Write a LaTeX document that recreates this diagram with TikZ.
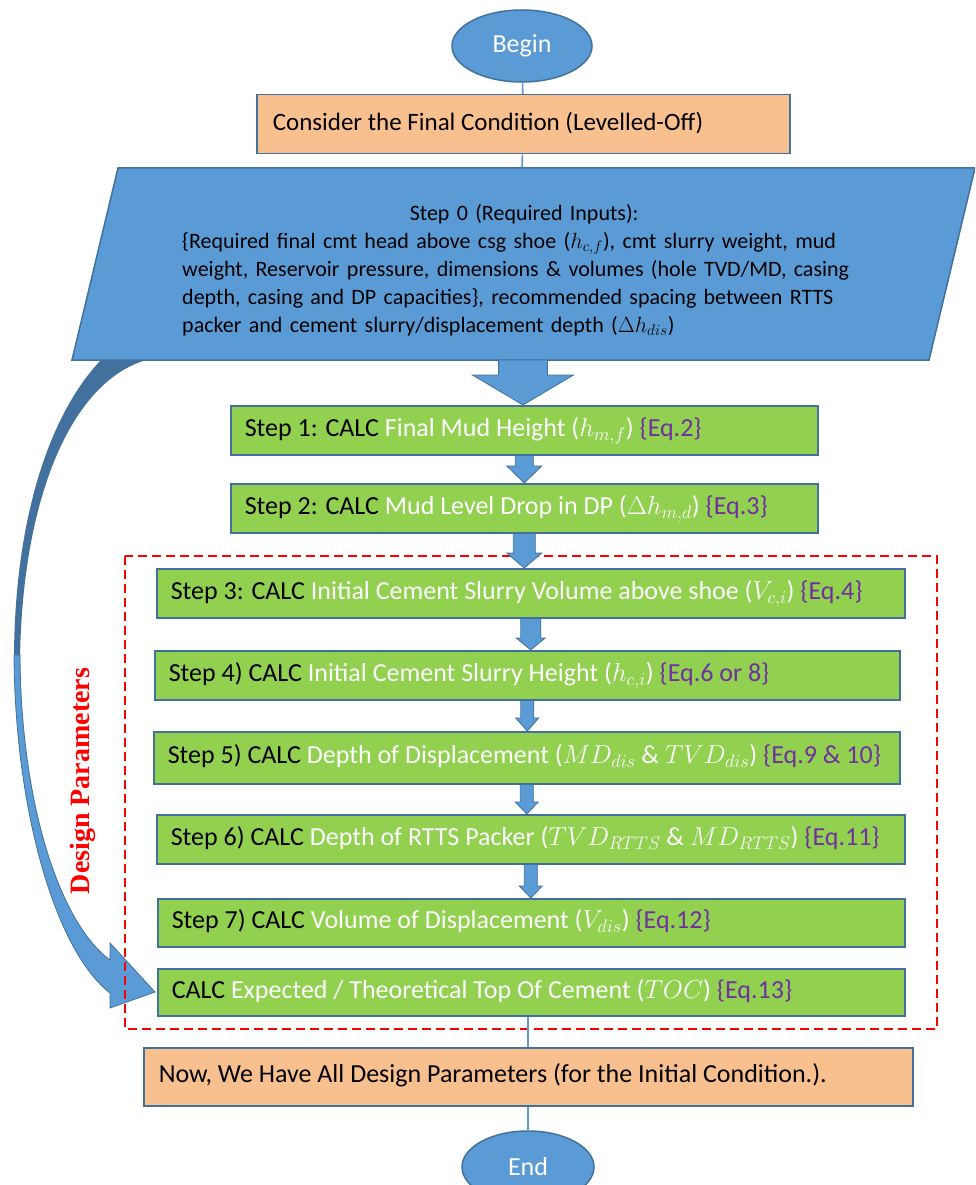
\RequirePackage{fix-cm}
\documentclass[tikz,border=0pt]{standalone}
\usepackage{fontspec}
\setmainfont{Carlito}
\newfontfamily\timesfont{Liberation Serif}
\usetikzlibrary{shapes.geometric,calc}
\definecolor{bfill}{HTML}{5B9BD5}
\definecolor{bdr}{HTML}{41719C}
\definecolor{ofill}{HTML}{F8BF8F}
\definecolor{gfill}{HTML}{92D050}
\definecolor{eqc}{HTML}{7030A0}
\definecolor{dred}{HTML}{FF0000}
\tikzset{
  stepst/.style={draw=bdr, fill=gfill, line width=1.5pt, anchor=north west,
    inner xsep=14pt, inner ysep=0pt, font=\fontsize{26}{30}\selectfont},
  obox/.style={draw=bdr, fill=ofill, line width=1.5pt, anchor=north west,
    inner ysep=0pt, font=\fontsize{26}{30}\selectfont},
  ell/.style={ellipse, draw=bdr, fill=bfill, line width=1.5pt, text=white,
    inner sep=0pt, font=\fontsize{26}{30}\selectfont},
  conn/.style={draw=bfill, line width=1.6pt},
  arrst/.style={fill=bfill, draw=bdr, line width=0.8pt},
}
\newcommand\blockarr[5]{%
  \filldraw[arrst] let \p1=(#1), \p2=(#2) in
    (\x1-#3,\y1) -- (\x1+#3,\y1) -- (\x1+#3,\y2+#5) -- (\x1+#4,\y2+#5)
    -- (\x1,\y2) -- (\x1-#4,\y2+#5) -- (\x1-#3,\y2+#5) -- cycle;}
\newcommand\mkstep[8]{%
  \node[stepst, minimum width=#4pt, minimum height=#5pt] (#1) at (#2,#3)
    {\makebox[\dimexpr#4pt-28pt\relax][l]{\strut\color{black}#6\color{white}#7 \color{eqc}#8}};}
\begin{document}
\begin{tikzpicture}[x=1pt,y=-1pt]
\useasboundingbox (0,0) rectangle (975,1185);
\clip (0,0) rectangle (975,1185);
\fill[white] (0,0) rectangle (975,1185);

% Begin / Consider
\node[ell, minimum width=140pt, minimum height=72pt] (b) at (522,46) {Begin};
\node[obox, minimum width=533pt, minimum height=59pt, inner xsep=16pt,
  font=\fontsize{25}{30}\selectfont] (c) at (256,94)
  {\makebox[501pt][l]{\strut Consider the Final Condition (Levelled-Off)}};
\draw[conn] (b) -- (c);

% Step 0 parallelogram
\coordinate (p0tl) at (118,168);
\coordinate (p0tr) at (975,168);
\coordinate (p0br) at (929,360);
\coordinate (p0bl) at (72,360);
\coordinate (p0t) at (522,168);
\coordinate (p0b) at (523,360);
\draw[conn] (c) -- (p0t);
\filldraw[fill=bfill, draw=bdr, line width=1.5pt] (p0tl) -- (p0tr) -- (p0br) -- (p0bl) -- cycle;
\node[anchor=west, align=left, text width=700pt, inner sep=0pt,
  font=\fontsize{22}{28}\selectfont] (s0) at (182,270)
  {\makebox[684pt]{Step 0 (Required Inputs):}\\
   \{Required final cmt head above csg shoe ($h_{c,f}$), cmt slurry weight, mud\\
   weight, Reservoir pressure, dimensions \& volumes (hole TVD/MD, casing\\
   depth, casing and DP capacities\}, recommended spacing between RTTS\\
   packer and cement slurry/displacement depth ($\Delta h_{dis}$)};

% curved arrow on the left
\fill[bdr] (100,361) .. controls (45,420) and (14,530) .. (14,660)
  -- (20,660) .. controls (22,500) and (70,385) .. (143,361) -- cycle;
\filldraw[arrst] (14,655) .. controls (15,810) and (55,950) .. (110,993)
  -- (110,1008) -- (155,992) -- (110,943) -- (110,960)
  .. controls (62,925) and (21,810) .. (20,655) -- cycle;

% design parameters label
\node[rotate=90, text=dred, inner sep=0pt,
  font=\timesfont\bfseries\fontsize{28}{30}\selectfont] (dp) at (83,781) {Design Parameters};

% dashed group
\draw[dred, line width=2pt, dash pattern=on 9pt off 5pt] (125,556) rectangle (937,1029);

% steps
\mkstep{s1}{230}{405}{587}{49}{Step 1: CALC }{Final Mud Height ($h_{m,f}$)}{\{Eq.2\}}
\mkstep{s2}{230}{483}{587}{49}{Step 2: CALC }{Mud Level Drop in DP ($\Delta h_{m,d}$)}{\{Eq.3\}}
\mkstep{s3}{156}{568}{748}{49}{Step 3: CALC }{Initial Cement Slurry Volume above shoe ($V_{c,i}$)}{\{Eq.4\}}
\mkstep{s4}{154}{650}{745}{49}{Step 4) CALC }{Initial Cement Slurry Height ($h_{c,i}$)}{\{Eq.6 or 8\}}
\mkstep{s5}{153}{731}{746}{52}{Step 5) CALC }{Depth of Displacement ($MD_{dis}$ \& $TVD_{dis}$)}{\{Eq.9 \& 10\}}
\mkstep{s6}{156}{814}{748}{49}{Step 6) CALC }{Depth of RTTS Packer ($TVD_{RTTS}$ \& $MD_{RTTS}$)}{\{Eq.11\}}
\mkstep{s7}{157}{898}{747}{48}{Step 7) CALC }{Volume of Displacement ($V_{dis}$)}{\{Eq.12\}}
\mkstep{s8}{157}{968}{747}{47}{CALC }{Expected / Theoretical Top Of Cement ($TOC$)}{\{Eq.13\}}

% block arrows
\blockarr{p0b}{s1.north}{24.5pt}{50.5pt}{30pt}
\blockarr{s1.south}{s2.north}{9pt}{17.5pt}{17pt}
\blockarr{s2.south}{s3.north}{11pt}{17.5pt}{15pt}
\blockarr{s3.south}{s4.north}{10pt}{14.5pt}{12pt}
\blockarr{s4.south}{s5.north}{6.5pt}{11.5pt}{13pt}
\blockarr{s5.south}{s6.north}{6.5pt}{11.5pt}{12pt}
\blockarr{s6.south}{s7.north}{6.5pt}{11.5pt}{12pt}

% final
\node[obox, minimum width=769pt, minimum height=58pt, inner xsep=15pt] (n) at (143,1047)
  {\makebox[739pt][l]{\strut Now, We Have All Design Parameters (for the Initial Condition.).}};
\node[ell, minimum width=132pt, minimum height=72pt] (e) at (528,1167) {End};
\draw[conn] (s8.south -| n.north) -- (n.north);
\draw[conn] (n.south) -- (n.south |- e.north);
\end{tikzpicture}
\end{document}
